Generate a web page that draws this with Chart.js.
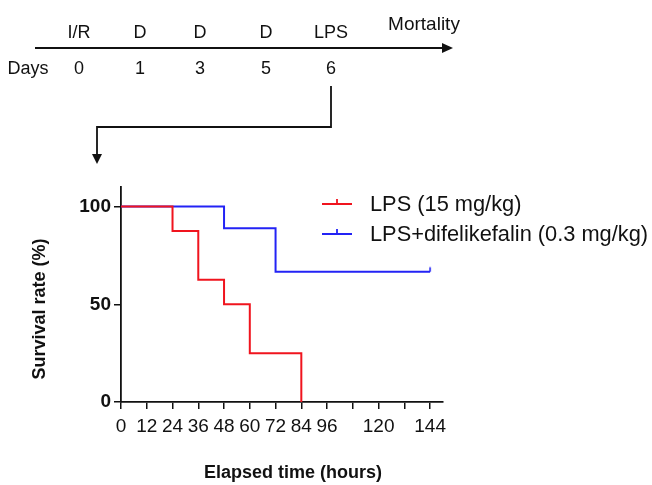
<!DOCTYPE html>
<html>
<head>
<meta charset="utf-8">
<script src="https://cdn.jsdelivr.net/npm/chart.js@4"></script>
<style>
  html, body { margin: 0; padding: 0; background: #fff; }
  #wrap { width: 652px; height: 485px; }
</style>
</head>
<body>
<div id="wrap"><canvas id="kmChart" width="652" height="485"></canvas></div>
<script>
// ---- data ----
const seriesNames = ['LPS (15 mg/kg)', 'LPS+difelikefalin (0.3 mg/kg)'];
const lpsTimes = [0, 24, 36, 48, 60, 84];
const lpsSurvival = [100, 87.5, 62.5, 50, 25, 0];
const difeTimes = [0, 48, 72, 144];
const difeSurvival = [100, 88.9, 66.7, 66.7];
const xTickValues = [0, 12, 24, 36, 48, 60, 72, 84, 96, 108, 120, 132, 144];
const xTickLabels = ['0', '12', '24', '36', '48', '60', '72', '84', '96', '', '120', '', '144'];
const yTickValues = [0, 50, 100];
const timelineDays = ['0', '1', '3', '5', '6'];
const timelineEvents = ['I/R', 'D', 'D', 'D', 'LPS'];

// layout of the schematic above the chart
const timelineX = [79, 140, 200, 266, 331];
const red = '#f0141e';
const blue = '#2323f5';
const font = '"Liberation Sans", Arial, sans-serif';

// censor mark: small upward tick
function censorMark(color) {
  const c = document.createElement('canvas');
  c.width = 12; c.height = 12;
  const g = c.getContext('2d');
  g.strokeStyle = color; g.lineWidth = 1.6;
  g.beginPath(); g.moveTo(6, 1.5); g.lineTo(6, 6); g.stroke();
  return c;
}

function toXY(xs, ys) { return xs.map((x, i) => ({ x: x, y: ys[i] })); }

function arrowHead(ctx, x, y, dir) {
  ctx.beginPath();
  if (dir === 'right') { ctx.moveTo(x, y); ctx.lineTo(x - 11, y - 5); ctx.lineTo(x - 11, y + 5); }
  else { ctx.moveTo(x, y); ctx.lineTo(x - 5, y - 10); ctx.lineTo(x + 5, y - 10); }
  ctx.closePath(); ctx.fill();
}

const extras = {
  id: 'extras',
  afterDraw(chart) {
    const ctx = chart.ctx;
    ctx.save();
    ctx.fillStyle = '#111'; ctx.strokeStyle = '#111';

    // timeline
    ctx.lineWidth = 2;
    ctx.beginPath(); ctx.moveTo(35, 48); ctx.lineTo(443, 48); ctx.stroke();
    arrowHead(ctx, 453, 48, 'right');
    ctx.font = '18px ' + font;
    ctx.textAlign = 'center'; ctx.textBaseline = 'middle';
    timelineEvents.forEach((t, i) => ctx.fillText(t, timelineX[i], 33));
    timelineDays.forEach((t, i) => ctx.fillText(t, timelineX[i], 69));
    ctx.fillText('Days', 28, 69);
    ctx.font = '19px ' + font;
    ctx.fillText('Mortality', 424, 25);

    // connector to the graph
    ctx.lineWidth = 1.8;
    ctx.beginPath();
    ctx.moveTo(331, 86); ctx.lineTo(331, 127); ctx.lineTo(97, 127); ctx.lineTo(97, 154);
    ctx.stroke();
    arrowHead(ctx, 97, 164, 'down');

    // axis titles
    ctx.font = 'bold 18px ' + font;
    ctx.fillText('Elapsed time (hours)', 293, 473);
    ctx.save();
    ctx.translate(40, 309); ctx.rotate(-Math.PI / 2);
    ctx.fillText('Survival rate (%)', 0, 0);
    ctx.restore();

    // legend
    const colors = [red, blue];
    ctx.font = '21.8px ' + font;
    ctx.textAlign = 'left';
    seriesNames.forEach((name, i) => {
      const y = 204 + i * 30;
      ctx.strokeStyle = colors[i]; ctx.lineWidth = 1.8;
      ctx.beginPath();
      ctx.moveTo(322, y); ctx.lineTo(352, y);
      ctx.moveTo(337, y); ctx.lineTo(337, y - 5);
      ctx.stroke();
      ctx.fillStyle = '#111';
      ctx.fillText(name, 370, y + 1);
    });
    ctx.restore();
  }
};

new Chart(document.getElementById('kmChart'), {
  type: 'line',
  data: {
    datasets: [{
      label: seriesNames[0],
      data: toXY(lpsTimes, lpsSurvival),
      borderColor: red,
      borderWidth: 2,
      stepped: 'before',
      pointRadius: 0
    }, {
      label: seriesNames[1],
      data: toXY(difeTimes, difeSurvival),
      borderColor: blue,
      borderWidth: 2,
      stepped: 'before',
      pointStyle: censorMark(blue),
      pointRadius: difeTimes.map((t, i) => i === difeTimes.length - 1 ? 5 : 0)
    }]
  },
  options: {
    responsive: false,
    animation: false,
    events: [],
    layout: { padding: { top: 187, right: 209, left: 0, bottom: 0 } },
    plugins: { legend: { display: false }, tooltip: { enabled: false } },
    scales: {
      x: {
        type: 'linear',
        min: 0, max: 150,
        afterBuildTicks: s => { s.ticks = xTickValues.map(v => ({ value: v })); },
        afterFit: s => { s.height = 83; },
        grid: { drawOnChartArea: false, drawTicks: true, tickLength: 7, color: '#111', lineWidth: 1.5 },
        border: { color: '#111', width: 1.8 },
        ticks: {
          color: '#111', padding: 6, maxRotation: 0, autoSkip: false,
          font: { family: font, size: 19 },
          callback: (v, i) => xTickLabels[i]
        }
      },
      y: {
        type: 'linear',
        min: 0, max: 110,
        afterBuildTicks: s => { s.ticks = yTickValues.map(v => ({ value: v })); },
        afterFit: s => { s.width = 121; },
        grid: { drawOnChartArea: false, drawTicks: true, tickLength: 7, color: '#111', lineWidth: 1.5 },
        border: { color: '#111', width: 1.8 },
        ticks: {
          color: '#111', padding: 3,
          font: { family: font, size: 19, weight: 'bold' }
        }
      }
    }
  },
  plugins: [extras]
});
</script>
</body>
</html>
